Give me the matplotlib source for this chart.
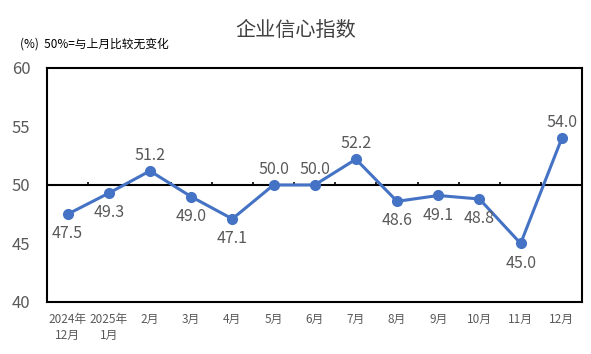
import numpy as np
import matplotlib
matplotlib.use('Agg')
import matplotlib.pyplot as plt

plt.rcParams['font.family'] = ['Noto Sans CJK SC', 'DejaVu Sans']

# data
months = ['2024年\n12月', '2025年\n1月', '2月', '3月', '4月', '5月', '6月',
          '7月', '8月', '9月', '10月', '11月', '12月']
values = [47.5, 49.3, 51.2, 49.0, 47.1, 50.0, 50.0, 52.2, 48.6, 49.1, 48.8, 45.0, 54.0]
label_pos = ['below', 'below', 'above', 'below', 'below', 'above', 'above',
             'above', 'below', 'below', 'below', 'below', 'above']

blue = '#4472C4'
grey = '#595959'

fig = plt.figure(figsize=(5.91, 3.54), dpi=100)
ax = fig.add_axes([0.0795, 0.147, 0.906, 0.661])

x = np.arange(len(months))
ax.plot(x, values, color=blue, lw=2.2, marker='o', markersize=7, zorder=3)

# 50% reference line with small ticks between months
ax.axhline(50, color='black', lw=1.5, zorder=2)
ax.vlines(np.arange(0.5, len(months) - 1), 50, 50.28, color='black', lw=1.2, zorder=2)

for xi, v, pos in zip(x, values, label_pos):
    if pos == 'above':
        ax.annotate(f'{v:.1f}', (xi, v), xytext=(0, 5), textcoords='offset points',
                    ha='center', va='bottom', fontsize=11.5, color=grey)
    else:
        ax.annotate(f'{v:.1f}', (xi, v), xytext=(0, -8), textcoords='offset points',
                    ha='center', va='top', fontsize=11.5, color=grey)

ax.set_xlim(-0.5, len(months) - 0.5)
ax.set_ylim(40, 60)
ax.set_yticks([40, 45, 50, 55, 60])
ax.set_xticks(x)
ax.set_xticklabels(months, fontsize=8.5, color=grey, linespacing=1.25)
ax.tick_params(axis='y', length=0, labelsize=12, labelcolor=grey, pad=12)
ax.tick_params(axis='x', length=0, pad=8)
for s in ax.spines.values():
    s.set_linewidth(1.5)
    s.set_color('black')

fig.text(0.5, 0.915, '企业信心指数', ha='center', va='center', fontsize=14.5, color='#404040')
fig.text(0.034, 0.875, '(%)  50%=与上月比较无变化', ha='left', va='center', fontsize=8.5, color='black')

fig.savefig('out.png', dpi=100)
